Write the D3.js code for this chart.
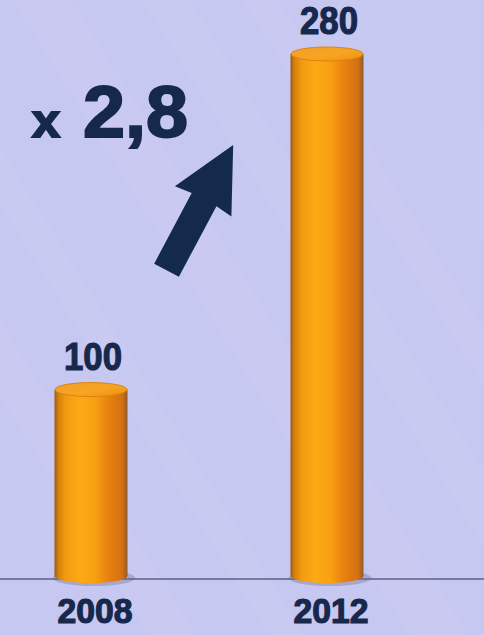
<!DOCTYPE html>
<html>
<head>
<meta charset="utf-8">
<script src="https://cdn.jsdelivr.net/npm/d3@7"></script>
<style>
  html, body { margin: 0; padding: 0; background: #c7c8f2; }
  svg { display: block; }
</style>
</head>
<body>
<script>
var svgWidth = 484;
var svgHeight = 635;

var years = ["2008", "2012"];
var values = [100, 280];
var factorLabel = "2,8";

var baseY = 576;
var barWidth = 73;
var ry = 7;
var ink = "#17284d";

var xScale = d3.scalePoint()
    .domain(years)
    .range([91, 327]);

var yScale = d3.scaleLinear()
    .domain([0, 280])
    .range([baseY, 54]);

var data = years.map((y, i) => ({ year: y, value: values[i] }));

var svg = d3.select("body")
    .append("svg")
    .attr("width", svgWidth)
    .attr("height", svgHeight);

var defs = svg.append("defs");

var bodyGrad = defs.append("linearGradient")
    .attr("id", "bodyGrad")
    .attr("x1", "0%").attr("x2", "100%").attr("y1", "0%").attr("y2", "0%");
[
    [0, "#9a5a10"], [0.05, "#d47f0c"], [0.15, "#f39a10"], [0.35, "#fdaa16"],
    [0.55, "#f8a012"], [0.68, "#ec8a0e"], [0.8, "#e27a10"], [0.93, "#d27012"], [1, "#8f5a30"]
].forEach(s => bodyGrad.append("stop").attr("offset", s[0]).attr("stop-color", s[1]));

var topGrad = defs.append("linearGradient")
    .attr("id", "topGrad")
    .attr("x1", "0%").attr("x2", "100%").attr("y1", "0%").attr("y2", "100%");
[[0, "#f2a02a"], [0.6, "#f6a420"], [1, "#e88d14"]]
    .forEach(s => topGrad.append("stop").attr("offset", s[0]).attr("stop-color", s[1]));

// faint background stripes
var stripes = [
    [-60, 0.035, 40], [60, 0.045, 30], [200, 0.035, 50], [330, 0.045, 40], [430, 0.035, 30], [520, 0.03, 60]
];
svg.selectAll(".stripe")
    .data(stripes).enter()
    .append("rect")
    .attr("x", d => d[0])
    .attr("y", -100)
    .attr("width", d => d[2])
    .attr("height", 900)
    .attr("transform", d => "rotate(-32," + d[0] + ",300)")
    .attr("fill", "#ffffff")
    .attr("opacity", d => d[1]);

// baseline
svg.append("line")
    .attr("x1", 0)
    .attr("x2", svgWidth)
    .attr("y1", baseY + 3)
    .attr("y2", baseY + 3)
    .attr("stroke", "#5d5f86")
    .attr("stroke-width", 1.5);

var bars = svg.selectAll(".bar")
    .data(data).enter()
    .append("g")
    .attr("class", "bar");

// shadow
bars.append("ellipse")
    .attr("cx", d => xScale(d.year) + 3)
    .attr("cy", baseY + 2)
    .attr("rx", barWidth / 2 + 5)
    .attr("ry", ry + 1)
    .attr("fill", "#6a6a90")
    .attr("opacity", 0.35);

bars.append("ellipse")
    .attr("cx", d => xScale(d.year))
    .attr("cy", baseY)
    .attr("rx", barWidth / 2)
    .attr("ry", ry)
    .attr("fill", "url(#bodyGrad)");

bars.append("rect")
    .attr("x", d => xScale(d.year) - barWidth / 2)
    .attr("y", d => yScale(d.value))
    .attr("width", barWidth)
    .attr("height", d => baseY - yScale(d.value))
    .attr("fill", "url(#bodyGrad)");

bars.append("ellipse")
    .attr("cx", d => xScale(d.year))
    .attr("cy", d => yScale(d.value))
    .attr("rx", barWidth / 2 - 0.5)
    .attr("ry", ry)
    .attr("fill", "url(#topGrad)")
    .attr("stroke", "#dd8410")
    .attr("stroke-width", 1);

// value labels
bars.append("text")
    .attr("x", d => xScale(d.year) + 2)
    .attr("y", d => yScale(d.value) - 20)
    .attr("text-anchor", "middle")
    .attr("font-family", "Liberation Sans, Arial, sans-serif")
    .attr("font-weight", "bold")
    .attr("font-size", 39)
    .attr("textLength", 58)
    .attr("lengthAdjust", "spacingAndGlyphs")
    .attr("fill", ink)
    .attr("stroke", ink)
    .attr("stroke-width", 1.2)
    .text(d => d.value);

// year labels
bars.append("text")
    .attr("x", d => xScale(d.year) + 4)
    .attr("y", baseY + 47)
    .attr("text-anchor", "middle")
    .attr("font-family", "Liberation Sans, Arial, sans-serif")
    .attr("font-weight", "bold")
    .attr("font-size", 35)
    .attr("textLength", 75)
    .attr("lengthAdjust", "spacingAndGlyphs")
    .attr("fill", ink)
    .attr("stroke", ink)
    .attr("stroke-width", 1.2)
    .text(d => d.year);

// growth factor
var factor = svg.append("text")
    .attr("x", 32)
    .attr("y", 137)
    .attr("font-family", "Liberation Sans, Arial, sans-serif")
    .attr("font-weight", "bold")
    .attr("fill", ink)
    .attr("stroke", ink)
    .attr("stroke-width", 2);
factor.append("tspan")
    .attr("font-size", 46)
    .attr("textLength", 28)
    .attr("lengthAdjust", "spacingAndGlyphs")
    .text("x");
factor.append("tspan")
    .attr("x", 83)
    .attr("font-size", 72)
    .attr("textLength", 105)
    .attr("lengthAdjust", "spacingAndGlyphs")
    .text(factorLabel);

// arrow: tail between the bars, pointing up-right
var tailX = xScale(years[0]) + 0.32 * (xScale(years[1]) - xScale(years[0]));
var tailY = yScale(164);
var arrowPts = [[-14, 0], [14, 0], [14, -80], [32, -78], [0, -142], [-32, -78], [-14, -80]];
svg.append("polygon")
    .attr("points", arrowPts.map(p => p.join(",")).join(" "))
    .attr("transform", "translate(" + tailX + "," + tailY + ") rotate(28)")
    .attr("fill", "#132a4c");
</script>
</body>
</html>
